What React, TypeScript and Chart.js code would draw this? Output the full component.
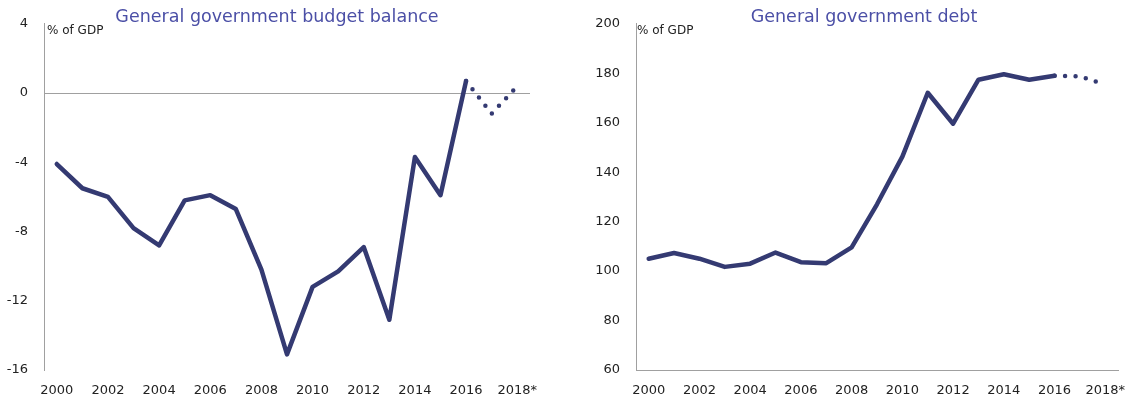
import React, { useEffect, useRef } from "react";
import { Chart, registerables } from "chart.js";

Chart.register(...registerables);

const years = ["2000","2001","2002","2003","2004","2005","2006","2007","2008","2009","2010","2011","2012","2013","2014","2015","2016","2017","2018*"];

const balanceActual = [-4.1, -5.5, -6.0, -7.8, -8.8, -6.2, -5.9, -6.7, -10.2, -15.1, -11.2, -10.3, -8.9, -13.1, -3.7, -5.9, 0.7, null, null];
const balanceForecast = [null, null, null, null, null, null, null, null, null, null, null, null, null, null, null, null, 0.7, -1.2, 0.4];

const debtActual = [105.0, 107.3, 105.0, 101.7, 103.0, 107.5, 103.6, 103.2, 109.6, 127.0, 146.3, 172.1, 159.6, 177.4, 179.6, 177.4, 179.0, null, null];
const debtForecast = [null, null, null, null, null, null, null, null, null, null, null, null, null, null, null, null, 179.0, 178.8, 175.4];

const balanceTicks = { min: -16, max: 4, step: 4 };
const debtTicks = { min: 60, max: 200, step: 20 };

const LINE = "#343a72";
const TITLE = "#4b4fa6";
const FONT = "'DejaVu Sans', sans-serif";

type Cfg = {
  actual: (number | null)[];
  forecast: (number | null)[];
  ticks: { min: number; max: number; step: number };
  title: string;
  titleX: number;
  unitX: number;
  yWidth: number;
  padRight: number;
  zeroLine: boolean;
  bottomBorder: boolean;
};

function LineChart(props: Cfg & { left: number }) {
  const ref = useRef<HTMLCanvasElement>(null);
  useEffect(() => {
    const c = props;
    const overlay = {
      id: "overlay",
      afterDraw(chart: any) {
        const ctx = chart.ctx;
        ctx.save();
        ctx.fillStyle = TITLE;
        ctx.font = "17.5px " + FONT;
        ctx.textAlign = "center";
        ctx.textBaseline = "middle";
        ctx.fillText(c.title, c.titleX, 17);
        ctx.fillStyle = "#222";
        ctx.font = "12px " + FONT;
        ctx.textAlign = "left";
        ctx.fillText("% of GDP", c.unitX, 31);
        ctx.restore();
      },
    };
    const chart = new Chart(ref.current!, {
      type: "line",
      data: {
        labels: years,
        datasets: [
          {
            data: c.actual,
            borderColor: LINE,
            borderWidth: 4.5,
            pointRadius: 0,
            tension: 0,
            borderJoinStyle: "round",
            borderCapStyle: "round",
            spanGaps: false,
          },
          {
            data: c.forecast,
            borderColor: LINE,
            borderWidth: 4.5,
            pointRadius: 0,
            tension: 0,
            borderDash: [0, 10.5],
            borderCapStyle: "round",
            spanGaps: false,
          },
        ],
      },
      plugins: [overlay],
      options: {
        animation: false,
        responsive: false,
        events: [],
        layout: { padding: { top: 22, right: c.padRight, left: 0, bottom: 0 } },
        plugins: { legend: { display: false }, tooltip: { enabled: false }, title: { display: false } },
        scales: {
          x: {
            offset: true,
            grid: { display: false, drawTicks: false },
            border: { display: c.bottomBorder, color: "#a0a0a0", width: 1 },
            ticks: {
              autoSkip: false,
              maxRotation: 0,
              padding: 13,
              color: "#222",
              font: { family: FONT, size: 13 },
              callback: (_v: any, i: number) => (i % 2 === 0 ? years[i] : ""),
            },
            afterFit: (s: any) => {
              s.height = 33;
              s.paddingLeft = 0;
              s.paddingRight = 0;
            },
          },
          y: {
            min: c.ticks.min,
            max: c.ticks.max,
            grid: {
              drawTicks: false,
              color: (ctx: any) => (c.zeroLine && ctx.tick && ctx.tick.value === 0 ? "#a0a0a0" : "rgba(0,0,0,0)"),
              lineWidth: 1,
            },
            border: { display: true, color: "#a0a0a0", width: 1 },
            ticks: {
              stepSize: c.ticks.step,
              padding: 16,
              color: "#222",
              font: { family: FONT, size: 13 },
            },
            afterFit: (s: any) => { s.width = c.yWidth; },
          },
        },
      },
    });
    return () => chart.destroy();
  }, []);
  return (
    <canvas
      ref={ref}
      width={560}
      height={403}
      style={{ position: "absolute", left: props.left, top: 0, width: 560, height: 403 }}
    />
  );
}

export default function App() {
  return (
    <div style={{ position: "absolute", left: 0, top: 0, width: 1130, height: 403, background: "#fff", overflow: "hidden" }}>
      <LineChart
        left={0}
        actual={balanceActual}
        forecast={balanceForecast}
        ticks={balanceTicks}
        title="General government budget balance"
        titleX={277}
        unitX={47}
        yWidth={44}
        padRight={30}
        zeroLine={true}
        bottomBorder={false}
      />
      <LineChart
        left={570}
        actual={debtActual}
        forecast={debtForecast}
        ticks={debtTicks}
        title="General government debt"
        titleX={294}
        unitX={67}
        yWidth={66}
        padRight={12}
        zeroLine={false}
        bottomBorder={true}
      />
    </div>
  );
}
